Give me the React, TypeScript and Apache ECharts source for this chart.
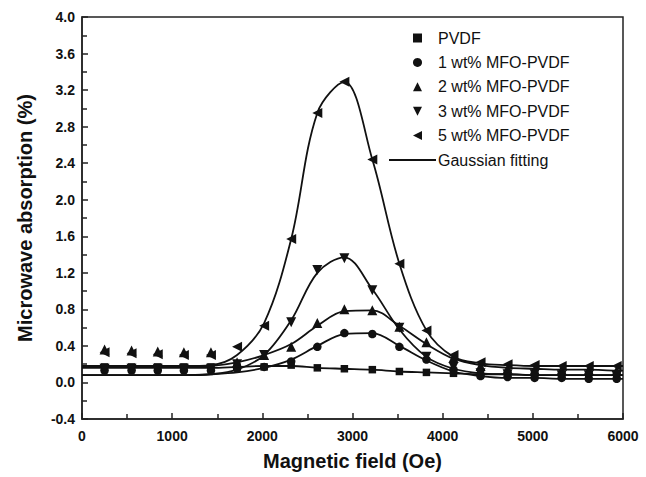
import React, { useEffect, useRef } from "react";
import * as echarts from "echarts";

// Magnetic field positions of the measured points (Oe)
const fieldX = [250, 550, 840, 1130, 1430, 1720, 2020, 2320, 2610, 2910, 3220, 3520, 3820, 4120, 4420, 4720, 5020, 5320, 5620, 5930];

// Measured microwave absorption (%)
const pvdf = [0.17, 0.17, 0.17, 0.17, 0.17, 0.17, 0.17, 0.19, 0.16, 0.15, 0.14, 0.12, 0.11, 0.10, 0.09, 0.09, 0.09, 0.08, 0.08, 0.08];
const mfo1 = [0.13, 0.13, 0.13, 0.13, 0.13, 0.15, 0.17, 0.23, 0.39, 0.54, 0.53, 0.39, 0.25, 0.14, 0.07, 0.06, 0.05, 0.05, 0.04, 0.04];
const mfo2 = [0.36, 0.35, 0.34, 0.33, 0.33, 0.22, 0.30, 0.39, 0.65, 0.80, 0.79, 0.61, 0.44, 0.27, 0.18, 0.15, 0.14, 0.14, 0.14, 0.13];
const mfo3 = [0.15, 0.15, 0.15, 0.15, 0.15, 0.20, 0.30, 0.66, 1.23, 1.36, 1.01, 0.60, 0.28, 0.17, 0.10, 0.09, 0.09, 0.08, 0.08, 0.07];
const mfo5 = [0.33, 0.32, 0.31, 0.30, 0.30, 0.39, 0.62, 1.57, 2.95, 3.29, 2.44, 1.30, 0.57, 0.30, 0.22, 0.20, 0.19, 0.18, 0.18, 0.18];

// Gaussian fitting curves
const fitX = [0, 250, 550, 840, 1130, 1430, 1720, 2020, 2320, 2610, 2910, 3220, 3520, 3820, 4120, 4420, 4720, 5020, 5320, 5620, 5930, 6000];
const fitPvdf = [0.16, 0.16, 0.16, 0.16, 0.16, 0.16, 0.17, 0.18, 0.18, 0.16, 0.15, 0.14, 0.12, 0.11, 0.10, 0.09, 0.09, 0.08, 0.08, 0.08, 0.08, 0.08];
const fit1 = [0.08, 0.08, 0.08, 0.08, 0.08, 0.09, 0.11, 0.16, 0.25, 0.40, 0.53, 0.54, 0.40, 0.24, 0.12, 0.07, 0.05, 0.05, 0.04, 0.04, 0.04, 0.04];
const fit2 = [0.17, 0.17, 0.17, 0.17, 0.17, 0.18, 0.22, 0.30, 0.42, 0.62, 0.78, 0.79, 0.62, 0.42, 0.26, 0.19, 0.16, 0.15, 0.14, 0.14, 0.13, 0.13];
const fit3 = [0.08, 0.08, 0.08, 0.08, 0.08, 0.09, 0.14, 0.30, 0.68, 1.20, 1.37, 1.02, 0.58, 0.28, 0.15, 0.10, 0.09, 0.08, 0.08, 0.08, 0.08, 0.08];
const fit5 = [0.18, 0.18, 0.18, 0.18, 0.18, 0.19, 0.30, 0.65, 1.57, 2.95, 3.29, 2.44, 1.30, 0.57, 0.28, 0.21, 0.19, 0.18, 0.18, 0.18, 0.18, 0.18];

const seriesNames = ["PVDF", "1 wt% MFO-PVDF", "2 wt% MFO-PVDF", "3 wt% MFO-PVDF", "5 wt% MFO-PVDF"];
const fitName = "Gaussian fitting";

export default function App() {
  const ref = useRef<HTMLDivElement>(null);
  useEffect(() => {
    if (!ref.current) return;
    const chart = echarts.init(ref.current, null, { renderer: "svg" });
    const font = "Arial, 'Liberation Sans', Helvetica, sans-serif";
    const ink = "#111";
    const pair = (xs: number[], ys: number[]) => xs.map((x, i) => [x, ys[i]]);
    const upPath = "path://M5,0 L10,10 L0,10 Z";
    const downPath = "path://M0,0 L10,0 L5,10 Z";
    const leftPath = "path://M10,0 L10,10 L0,5 Z";
    const markerSets = [
      { name: seriesNames[0], data: pvdf, symbol: "rect", size: 7.5, rot: 0, icon: "rect" },
      { name: seriesNames[1], data: mfo1, symbol: "circle", size: 8.5, rot: 0, icon: "circle" },
      { name: seriesNames[2], data: mfo2, symbol: "triangle", size: 10, rot: 0, icon: upPath },
      { name: seriesNames[3], data: mfo3, symbol: "triangle", size: 10, rot: 180, icon: downPath },
      { name: seriesNames[4], data: mfo5, symbol: "triangle", size: 10, rot: 90, icon: leftPath },
    ];
    const fits = [fitPvdf, fit1, fit2, fit3, fit5];
    const series: any[] = [];
    fits.forEach((f) => {
      series.push({
        name: fitName,
        type: "line",
        data: pair(fitX, f),
        smooth: 0.35,
        symbol: "none",
        lineStyle: { color: ink, width: 1.8 },
        itemStyle: { color: ink },
        z: 2,
      });
    });
    markerSets.forEach((m) => {
      series.push({
        name: m.name,
        type: "scatter",
        data: pair(fieldX, m.data),
        symbol: m.symbol,
        symbolSize: m.size,
        symbolRotate: m.rot,
        itemStyle: { color: ink, opacity: 1 },
        z: 3,
      });
    });
    chart.setOption({
      animation: false,
      backgroundColor: "#fff",
      grid: {
        left: 82,
        top: 17,
        right: 23,
        bottom: 58,
        show: true,
        borderColor: "#222",
        borderWidth: 1.5,
      },
      legend: [
        {
          orient: "vertical",
          left: 408,
          top: 25,
          itemWidth: 9,
          itemHeight: 9,
          itemGap: 8.4,
          selectedMode: false,
          data: markerSets.map((m) => ({ name: m.name, icon: m.icon, itemStyle: { color: ink, opacity: 1 } })),
          textStyle: { fontFamily: font, fontSize: 16, color: ink, lineHeight: 16, padding: [0, 0, 0, 11] },
        },
        {
          orient: "vertical",
          left: 384,
          top: 147,
          itemWidth: 47,
          itemHeight: 10,
          selectedMode: false,
          data: [{ name: fitName, icon: "path://M0,0 L46,0 L46,2 L0,2 Z", itemStyle: { color: ink } }],
          textStyle: { fontFamily: font, fontSize: 16, color: ink, lineHeight: 16, padding: [0, 0, 0, -3] },
        },
      ],
      xAxis: {
        type: "value",
        min: 0,
        max: 6000,
        interval: 1000,
        name: "Magnetic field (Oe)",
        nameLocation: "middle",
        nameGap: 32,
        nameTextStyle: { fontFamily: font, fontSize: 20, fontWeight: "bold", color: ink },
        axisLine: { onZero: false, lineStyle: { color: "#222", width: 1.5 } },
        axisTick: { inside: true, length: 6, lineStyle: { color: "#222", width: 1.5 } },
        minorTick: { show: true, splitNumber: 2, length: 5, lineStyle: { color: "#222", width: 1.5 } },
        axisLabel: {
          fontFamily: font,
          fontSize: 14,
          fontWeight: "bold",
          color: ink,
          margin: 10,
          formatter: (v: number) => String(v),
        },
        splitLine: { show: false },
      },
      yAxis: {
        type: "value",
        min: -0.4,
        max: 4.0,
        interval: 0.4,
        name: "Microwave absorption (%)",
        nameLocation: "middle",
        nameGap: 47,
        nameTextStyle: { fontFamily: font, fontSize: 20, fontWeight: "bold", color: ink },
        axisLine: { show: true, onZero: false, lineStyle: { color: "#222", width: 1.5 } },
        axisTick: { inside: true, length: 6, lineStyle: { color: "#222", width: 1.5 } },
        minorTick: { show: true, splitNumber: 2, length: 5, lineStyle: { color: "#222", width: 1.5 } },
        axisLabel: {
          fontFamily: font,
          fontSize: 14,
          fontWeight: "bold",
          color: ink,
          margin: 7,
          formatter: (v: number) => v.toFixed(1),
        },
        splitLine: { show: false },
      },
      series,
    });
    return () => chart.dispose();
  }, []);
  return <div ref={ref} style={{ width: 646, height: 477, position: "absolute", left: 0, top: 0 }} />;
}
